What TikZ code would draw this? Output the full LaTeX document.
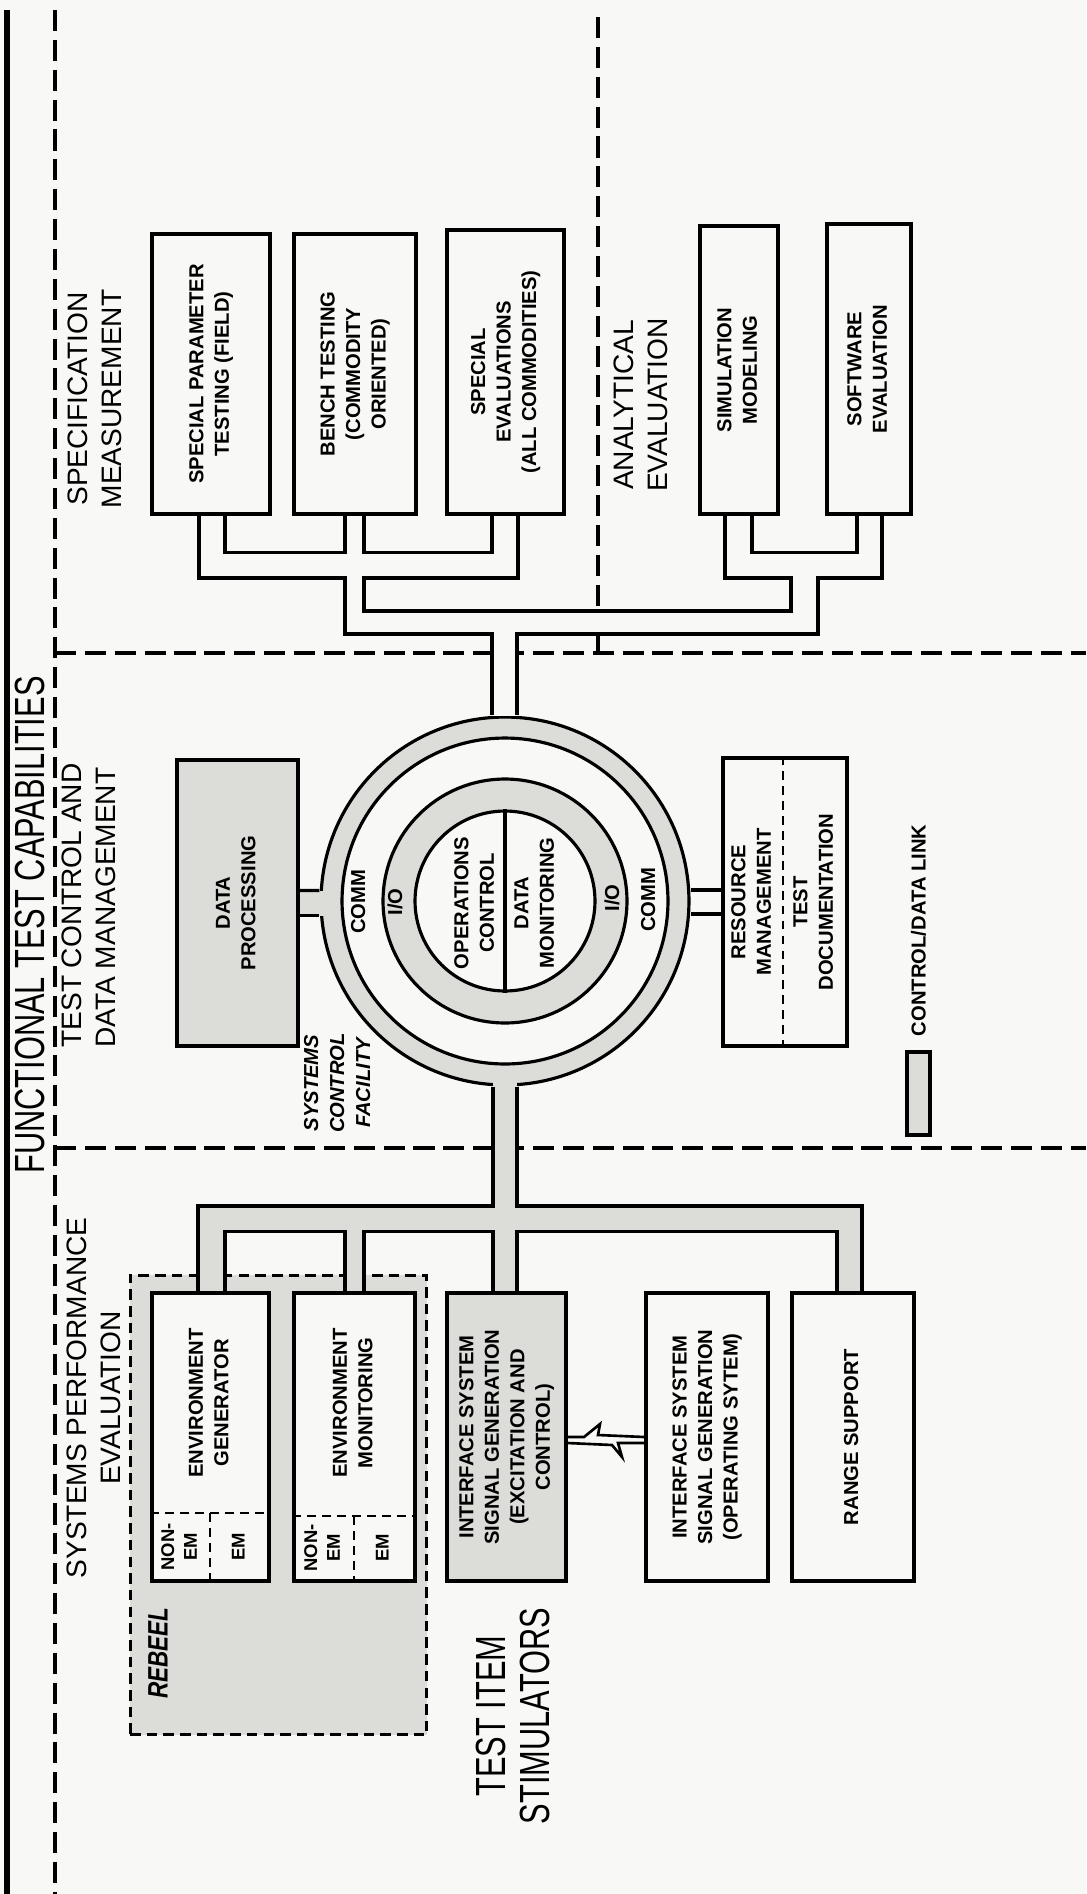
\documentclass[tikz,border=0pt]{standalone}
\usepackage{fontspec}
\setmainfont{Liberation Sans}
\usetikzlibrary{calc,positioning}
\definecolor{paper}{RGB}{248,248,246}
\definecolor{stip}{RGB}{220,220,216}
\newcommand{\vtext}[1]{\rotatebox{90}{\begin{tabular}{@{}c@{}}#1\end{tabular}}}
\newcommand{\cond}[1]{\scalebox{0.73}[1]{#1}}

\begin{document}
\begin{tikzpicture}
  [x=0.02cm,y=-0.02cm,
   box/.style={draw,line width=1.9pt,fill=paper,inner sep=0pt,font=\fontsize{11.5}{14.5}\selectfont\bfseries},
   sbox/.style={box,fill=stip},
   lbl/.style={inner sep=0pt,font=\fontsize{11.5}{14.5}\selectfont\bfseries},
   small/.style={inner sep=0pt,font=\fontsize{10.5}{13}\selectfont\bfseries},
   head/.style={inner sep=0pt,rotate=90,align=center,font=\fontsize{16}{19}\selectfont},
   big/.style={inner sep=0pt,rotate=90,align=center,font=\fontsize{24}{25.5}\selectfont},
   wall/.style={line width=1.8pt},
   sect/.style={line width=1.9pt,dash pattern=on 12pt off 5pt},
   split/.style={line width=1.6pt,dash pattern=on 5pt off 3.5pt},
   ring/.style={circle,draw,line width=1.8pt,inner sep=0pt}]

  \useasboundingbox (0,0) rectangle (1086,1894);
  \fill[paper] (0,0) rectangle (1086,1894);

  \draw[line width=3.4pt] (7,10) -- (7,1894);
  \draw[sect] (55,10) -- (55,1894);
  \draw[sect] (55,653) -- (1086,653);
  \draw[sect] (55,1148) -- (1086,1148);
  \draw[sect] (598,17) -- (598,611);
  \draw[wall] (598,634) -- (598,653);

  \node (title) [big] at (30,925) {\cond{FUNCTIONAL TEST CAPABILITIES}};
  \node (specm) [head] at (95,399) {SPECIFICATION\\MEASUREMENT};
  \node (tcdm) [head,anchor=west,align=left] at (89,1048) {TEST CONTROL AND\\DATA MANAGEMENT};
  \node (spe) [head] at (94,1398) {SYSTEMS PERFORMANCE\\EVALUATION};
  \node (anev) [head] at (641,405) {ANALYTICAL\\EVALUATION};
  \node (tis) [big] at (513,1716) {\cond{TEST ITEM}\\\cond{STIMULATORS}};

  \node (sp) [box,minimum width=2.36cm,minimum height=5.6cm] at (211,374) {\vtext{SPECIAL PARAMETER\\TESTING (FIELD)}};
  \node (bt) [box,minimum width=2.44cm,minimum height=5.6cm] at (355,374) {\vtext{BENCH TESTING\\(COMMODITY\\ORIENTED)}};
  \node (se) [box,minimum width=2.34cm,minimum height=5.68cm] at (505.5,372) {\vtext{SPECIAL\\EVALUATIONS\\(ALL COMMODITIES)}};
  \node (sm) [box,minimum width=1.56cm,minimum height=5.76cm] at (739,370) {\vtext{SIMULATION\\MODELING}};
  \node (sw) [box,minimum width=1.68cm,minimum height=5.8cm] at (869,369) {\vtext{SOFTWARE\\EVALUATION}};

  \node (comm) [ring,fill=stip,minimum size=7.36cm] at (505,901) {};
  \node (gap) [ring,fill=paper,minimum size=6.52cm] at (comm) {};
  \node (io) [ring,fill=stip,minimum size=4.88cm] at (comm) {};
  \node (core) [ring,fill=paper,minimum size=3.6cm] at (comm) {};
  \draw[wall] (core.north) -- (core.south);
  \node (ops) [lbl] at (476,903) {\vtext{OPERATIONS\\CONTROL}};
  \node (mon) [lbl] at (536,903) {\vtext{DATA\\MONITORING}};
  \node (io1) [lbl] at (397,902) {\vtext{I/O}};
  \node (io2) [lbl] at (614,898) {\vtext{I/O}};
  \node (comm1) [lbl] at (360,902) {\vtext{COMM}};
  \node (comm2) [lbl] at (650,900) {\vtext{COMM}};

  \fill[paper] (492,634) rectangle (517,716);
  \draw[wall] ($(sp.south)+(14,0)$) -- ++(0,37) -| ($(bt.south)+(-10,0)$);
  \draw[wall] ($(bt.south)+(9,0)$) -- ++(0,37) -| ($(se.south)+(-13.5,0)$);
  \draw[wall] ($(sm.south)+(13,0)$) -- ++(0,37) -| ($(sw.south)+(-12,0)$);
  \draw[wall] ($(sp.south)+(-12,0)$) |- (345,578) |- (492,634) -- (comm.north -| 492,0);
  \draw[wall] ($(se.south)+(12.5,0)$) |- (364,578) |- (791,611) -- (791,578) -| ($(sm.south)+(-14,0)$);
  \draw[wall] ($(sw.south)+(13,0)$) |- (818,578) |- (517,634) -- (comm.north -| 517,0);

  \node (dp) [sbox,minimum width=2.42cm,minimum height=5.72cm] at (237.5,903) {\vtext{DATA\\PROCESSING}};
  \fill[stip] ($(dp.east)+(0,-12.5)$) rectangle ($(dp.east)+(32,12.5)$);
  \draw[wall] ($(dp.east)+(0,-12.5)$) -- (comm.west |- 0,890.5);
  \draw[wall] ($(dp.east)+(0,12.5)$) -- (comm.west |- 0,915.5);

  \node (rm) [box,minimum width=2.48cm,minimum height=5.76cm] at (785,902) {};
  \node (res) [lbl] at (753,902) {\vtext{RESOURCE\\MANAGEMENT}};
  \node (doc) [lbl] at (815,902) {\vtext{TEST\\DOCUMENTATION}};
  \draw[split] (rm.north -| 783,0) -- (rm.south -| 783,0);
  \draw[wall] ($(rm.west)+(0,-12)$) -- (comm.east |- 0,890);
  \draw[wall] ($(rm.west)+(0,12)$) -- (comm.east |- 0,914);

  \node (scf) [lbl,font=\fontsize{11.5}{14.8}\selectfont\bfseries\itshape] at (339,1083) {\vtext{SYSTEMS\\CONTROL\\FACILITY}};

  \node (key) [sbox,minimum width=0.46cm,minimum height=1.66cm] at (918.5,1093.5) {};
  \node (keytxt) [lbl,rotate=90,anchor=west] at ($(key.north)+(0,-14)$) {CONTROL/DATA LINK};

  \node (reb) [draw,fill=stip,line width=1.7pt,dash pattern=on 6pt off 3.5pt,inner sep=0pt,minimum width=5.94cm,minimum height=9.2cm] at (278.5,1505) {};
  \node (rebtxt) [inner sep=0pt,rotate=90,font=\fontsize{16}{16}\selectfont\bfseries\itshape] at (158,1653) {\scalebox{0.8}[1]{REBEEL}};

  \fill[stip] (198,1206) rectangle (862,1232);
  \fill[stip] (198,1232) rectangle (225,1292);
  \fill[stip] (345,1232) rectangle (364,1292);
  \fill[stip] (493,1075) rectangle (517,1292);
  \fill[stip] (837,1232) rectangle (862,1292);

  \node (eg) [box,minimum width=2.34cm,minimum height=5.76cm] at (210.5,1437) {};
  \node (em) [box,minimum width=2.42cm,minimum height=5.76cm] at (354.5,1437) {};
  \node (isg) [sbox,minimum width=2.38cm,minimum height=5.76cm] at (506.5,1437) {\vtext{INTERFACE SYSTEM\\SIGNAL GENERATION\\(EXCITATION AND\\CONTROL)}};
  \node (iso) [box,minimum width=2.44cm,minimum height=5.76cm] at (707,1437) {\vtext{INTERFACE SYSTEM\\SIGNAL GENERATION\\(OPERATING SYTEM)}};
  \node (rs) [box,minimum width=2.44cm,minimum height=5.76cm] at (853,1437) {\vtext{RANGE SUPPORT}};

  \draw[wall] ($(eg.north)+(-12.5,0)$) |- (493,1206) -- (comm.south -| 493,0);
  \draw[wall] (comm.south -| 517,0) |- (862,1206) -- ($(rs.north)+(9,0)$);
  \draw[wall] ($(eg.north)+(14.5,0)$) -- ++(0,-60) -| ($(em.north)+(-9.5,0)$);
  \draw[wall] ($(em.north)+(9.5,0)$) -- ++(0,-60) -| ($(isg.north)+(-13.5,0)$);
  \draw[wall] ($(isg.north)+(10.5,0)$) -- ++(0,-60) -| ($(rs.north)+(-16,0)$);

  \node (egt) [lbl] at (210.5,1403) {\vtext{ENVIRONMENT\\GENERATOR}};
  \draw[split] (eg.west |- 0,1513) -- (eg.east |- 0,1513);
  \draw[split] (210,1513) -- (eg.south -| 210,0);
  \node (egn) [small] at (181,1547) {\vtext{NON-\\EM}};
  \node (ege) [small] at (240,1547) {\vtext{EM}};

  \node (emt) [lbl] at (354.5,1403) {\vtext{ENVIRONMENT\\MONITORING}};
  \draw[split] (em.west |- 0,1516) -- (em.east |- 0,1516);
  \draw[split] (354,1516) -- (em.south -| 354,0);
  \node (emn) [small] at (324,1548) {\vtext{NON-\\EM}};
  \node (eme) [small] at (384,1548) {\vtext{EM}};

  \draw[wall,line width=1.5pt] (isg.east |- 0,1437) -- (584,1437) -- (600,1424) -- (598,1435) -- (iso.west |- 0,1437);
  \draw[wall,line width=1.5pt] (isg.east |- 0,1443) -- (612,1445) -- (622,1457) -- (618,1443) -- (iso.west |- 0,1443);
\end{tikzpicture}
\end{document}
